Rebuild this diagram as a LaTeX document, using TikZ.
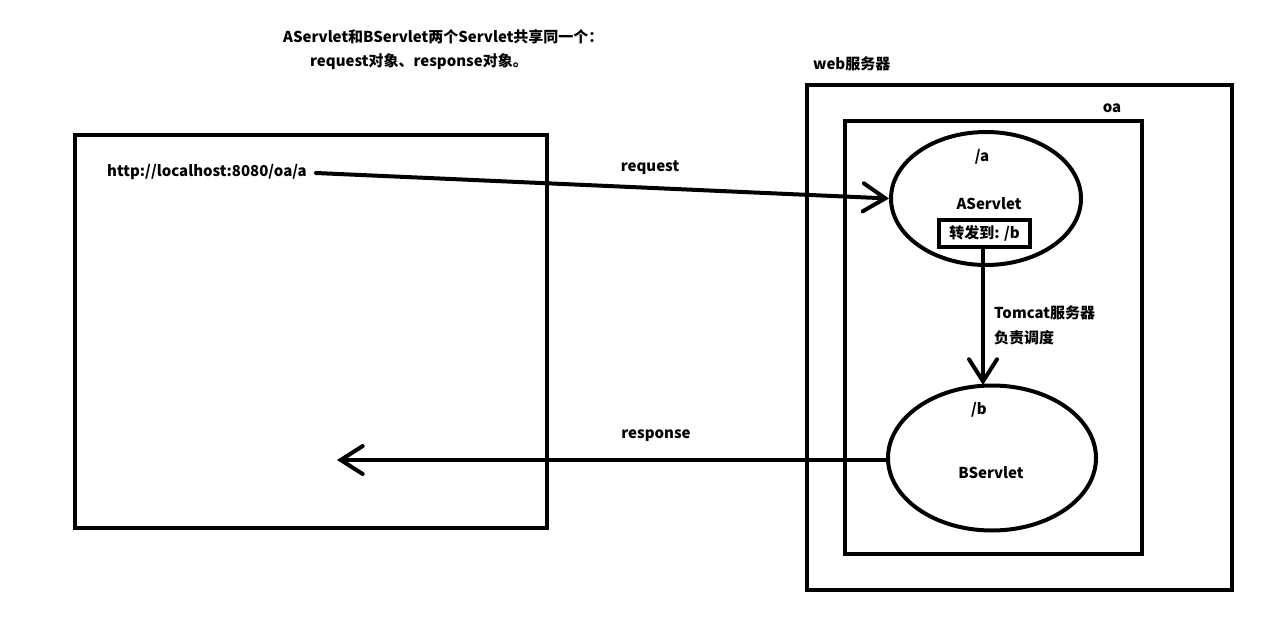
\documentclass[tikz,border=0pt]{standalone}
\usepackage{fontspec}
\setmainfont{Noto Sans CJK SC}
\usetikzlibrary{shapes.geometric,arrows.meta}
\tikzset{
  thick line/.style={line width=4pt},
  frame/.style={draw,thick line,rectangle,inner sep=0pt},
  oval/.style={draw,thick line,ellipse,inner sep=0pt},
  lbl/.style={inner sep=0pt,font=\bfseries\fontsize{15}{18}\selectfont},
  conn/.style={thick line,line cap=round,-{Straight Barb[length=22pt,width=28pt,line cap=round]}}
}
\begin{document}
\begin{tikzpicture}[x=1pt,y=-1pt]
\useasboundingbox[fill=white] (0,0) rectangle (1271,621);
% frames
\node[frame,minimum width=472pt,minimum height=393pt] (client) at (311,331.5) {};
\node[frame,minimum width=425pt,minimum height=505pt] (web) at (1019.5,337.5) {};
\node[frame,minimum width=297pt,minimum height=433pt] (oa) at (993.5,337.5) {};
\node[oval,minimum width=190pt,minimum height=133pt] (A) at (986,198.5) {};
\node[oval,minimum width=208pt,minimum height=145pt] (B) at (992,458) {};
\node[frame,minimum width=91pt,minimum height=27pt,lbl] (fwd) at (984.5,233.5) {转发到: /b};
% labels
\node[lbl,anchor=west] at (283,37) {AServlet和BServlet两个Servlet共享同一个：};
\node[lbl,anchor=west] at (310,62) {request对象、response对象。};
\node[lbl,anchor=west] (url) at (107,172) {http://localhost:8080/oa/a};
\node[lbl] (reqlbl) at (650,168) {request};
\node[lbl] (resplbl) at (656,436) {response};
\node[lbl,anchor=west] (weblbl) at (813,64) {web服务器};
\node[lbl] (oalbl) at (1112,108) {oa};
\node[lbl] (alabel) at (982,157) {/a};
\node[lbl] (aname) at (989,204) {AServlet};
\node[lbl,anchor=west] (tom1) at (994,313) {Tomcat服务器};
\node[lbl,anchor=west] (tom2) at (994,338) {负责调度};
\node[lbl] (blabel) at (979,410) {/b};
\node[lbl] (bname) at (991,473) {BServlet};
% connectors
\coordinate (urlend) at (316,173);
\coordinate (respend) at (337,460);
\draw[conn] (urlend) -- (A.west);
\draw[conn] (fwd.south -| 983,0) -- (983,385);
\draw[conn] (B.west |- respend) -- (respend);
\end{tikzpicture}
\end{document}
